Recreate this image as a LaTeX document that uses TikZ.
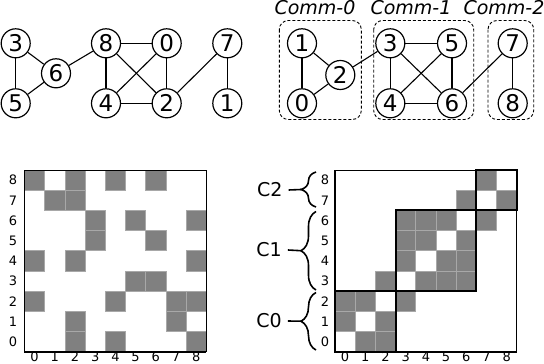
\documentclass[tikz,border=0pt]{standalone}
\usepackage{fontspec}
\setmainfont{DejaVu Sans}[ItalicFont={DejaVu Sans Oblique}]
\usepackage{xcolor}
\usepackage{tikz}
\usetikzlibrary{positioning,decorations.pathreplacing}
\definecolor{ink}{HTML}{000000}
\definecolor{cellgray}{HTML}{808080}
\definecolor{cellrule}{HTML}{A8A8A8}
\def\cellw{20.2}

\begin{document}
\begin{tikzpicture}[
  x=1pt, y=-1pt,
  vtx/.style={draw=ink, circle, line width=1.2pt, minimum size=29pt, inner sep=0pt, text=ink, font=\fontsize{23}{23}\selectfont},
  edge/.style={draw=ink, line width=1.1pt},
  commbox/.style={draw=ink, dash pattern=on 3pt off 2pt, rounded corners=9pt, line width=0.9pt},
  commlabel/.style={anchor=base, text=ink, font=\fontsize{19}{19}\selectfont\itshape},
  cell/.style={fill=cellgray, draw=cellrule, line width=0.8pt},
  frame/.style={draw=ink, line width=0.8pt},
  axis/.style={draw=ink, line width=1.6pt},
  block/.style={draw=ink, line width=2pt},
  tick/.style={inner sep=0pt, text=ink, font=\fontsize{13}{13}\selectfont},
  brace/.style={draw=ink, line width=1.6pt, decorate, decoration={brace, amplitude=15pt}},
  clabel/.style={inner xsep=6pt, inner ysep=0pt, text=ink, font=\fontsize{19}{19}\selectfont},
  arm/.style={draw=ink, line width=1.6pt}
]
\useasboundingbox (0,0) rectangle (544,364);

\node[vtx] (l3) at (15.7,43.3) {3};
\node[vtx] (l6) at (56,73.3) {6};
\node[vtx] (l5) at (15.7,103.3) {5};
\node[vtx] (l8) at (106,43.3) {8};
\node[vtx] (l0) at (166.7,43.3) {0};
\node[vtx] (l7) at (227.3,43.3) {7};
\node[vtx] (l4) at (106,103.3) {4};
\node[vtx] (l2) at (166.7,103.3) {2};
\node[vtx] (l1) at (227.3,103.3) {1};
\foreach \a/\b in {3/5,3/6,5/6,6/8,8/0,8/4,8/2,0/4,0/2,4/2,2/7,7/1}
  \draw[edge] (l\a) -- (l\b);

\draw[commbox] (279.3,20.5) rectangle (361.3,119.5);
\draw[commbox] (373.7,20.5) rectangle (473.7,119.5);
\draw[commbox] (488,20.5) rectangle (533.7,119.5);
\node[commlabel] (comm0) at (315,15) {Comm-0};
\node[commlabel] (comm1) at (411,15) {Comm-1};
\node[commlabel] (comm2) at (504,15) {Comm-2};

\node[vtx] (r1) at (302,43.3) {1};
\node[vtx] (r2) at (340.3,75) {2};
\node[vtx] (r0) at (302,103.3) {0};
\node[vtx] (r3) at (390.3,43.3) {3};
\node[vtx] (r5) at (452,43.3) {5};
\node[vtx] (r4) at (390.3,103.3) {4};
\node[vtx] (r6) at (452,103.3) {6};
\node[vtx] (r7) at (512.7,43.3) {7};
\node[vtx] (r8) at (512.7,103.3) {8};
\foreach \a/\b in {1/0,1/2,0/2,2/3,3/5,3/4,3/6,5/4,5/6,4/6,6/7,7/8}
  \draw[edge] (r\a) -- (r\b);

\begin{scope}[shift={(24.5,170)}]
  \foreach \r/\c in {8/0,8/2,8/4,8/6,7/1,7/2,6/3,6/5,6/8,5/3,5/6,4/0,4/2,4/8,3/5,3/6,2/0,2/4,2/7,2/8,1/2,1/7,0/2,0/4,0/8}
    \draw[cell] ({\c*\cellw},{(8-\r)*\cellw}) rectangle ++(\cellw,\cellw);
  \draw[frame] (0,0) -| ({9*\cellw},{9*\cellw});
  \draw[axis] (0,0) |- ({9*\cellw},{9*\cellw});
  \foreach \i in {0,...,8} {
    \node[tick] (lrow\i) at (-11.5,{(8-\i)*\cellw+\cellw/2}) {\i};
    \node[tick] (lcol\i) at ({\i*\cellw+\cellw/2},186.5) {\i};
  }
\end{scope}

\begin{scope}[shift={(335,170)}]
  \foreach \r/\c in {8/7,7/6,7/8,6/3,6/4,6/5,6/7,5/3,5/4,5/6,4/3,4/5,4/6,3/2,3/4,3/5,3/6,2/0,2/1,2/3,1/0,1/2,0/1,0/2}
    \draw[cell] ({\c*\cellw},{(8-\r)*\cellw}) rectangle ++(\cellw,\cellw);
  \draw[frame] (0,0) -| ({9*\cellw},{9*\cellw});
  \draw[axis] (0,0) |- ({9*\cellw},{9*\cellw});
  \draw[block] (0,{6*\cellw}) rectangle ({3*\cellw},{9*\cellw});
  \draw[block] ({3*\cellw},{2*\cellw}) rectangle ({7*\cellw},{6*\cellw});
  \draw[block] ({7*\cellw},0) rectangle ({9*\cellw},{2*\cellw});
  \foreach \i in {0,...,8} {
    \node[tick] (rrow\i) at (-10,{(8-\i)*\cellw+\cellw/2}) {\i};
    \node[tick] (rcol\i) at ({\i*\cellw+\cellw/2},186.5) {\i};
  }
\end{scope}

\draw[brace] (316,207) -- (316,172);
\draw[brace] (316,290) -- (316,211.5);
\draw[brace] (316,350) -- (316,292.5);
\coordinate (tipTwo) at (301,189.5);
\coordinate (tipOne) at (301,250.7);
\coordinate (tipZero) at (301,321.2);
\node[clabel] (cTwo) at (269.7,190) {C2};
\node[clabel] (cOne) at (269,250) {C1};
\node[clabel] (cZero) at (269,321) {C0};
\draw[arm] (cTwo.east) -- (tipTwo);
\draw[arm] (cOne.east) -- (tipOne);
\draw[arm] (cZero.east) -- (tipZero);
\end{tikzpicture}
\end{document}
